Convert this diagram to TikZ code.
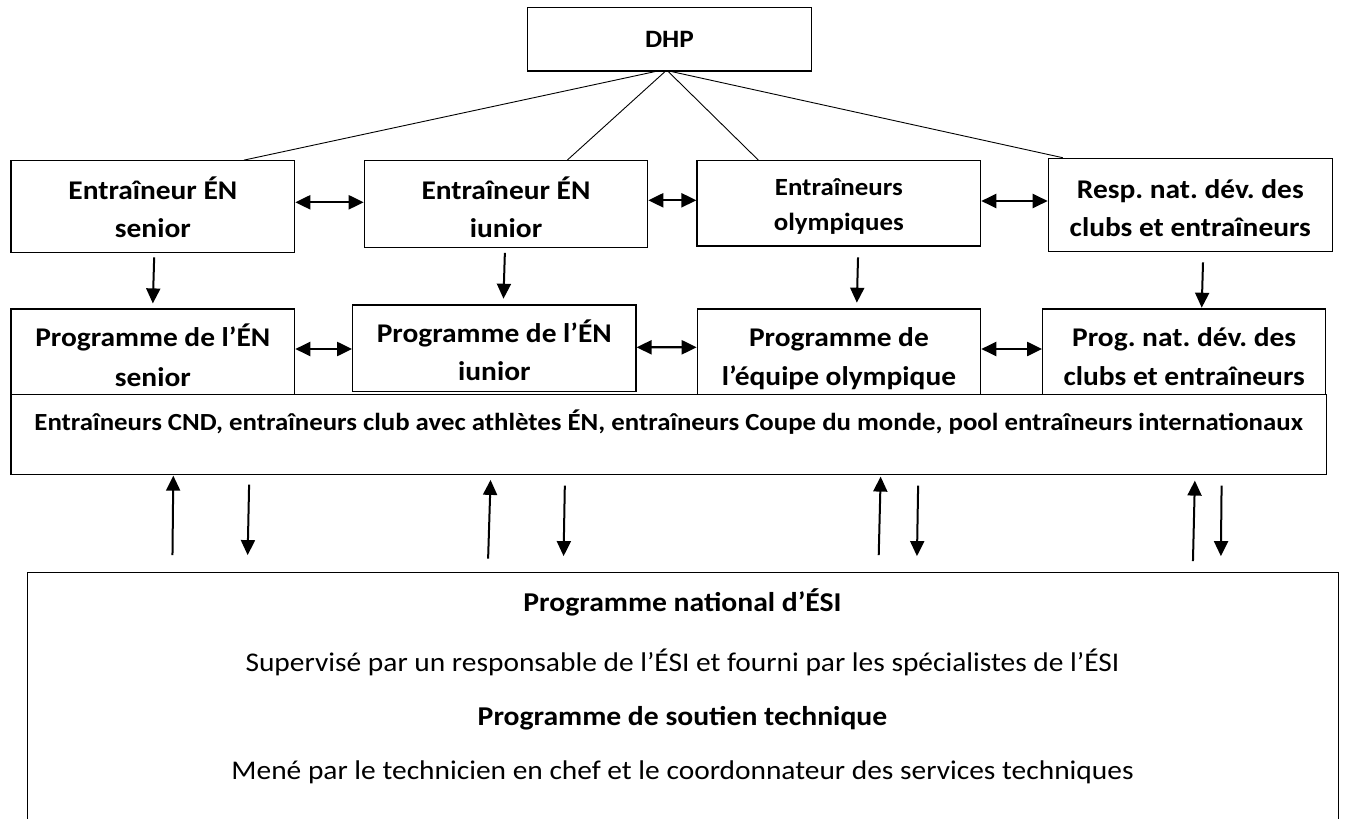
\documentclass[tikz,border=0pt]{standalone}
\usepackage{fontspec}
\setmainfont{Carlito}[FakeStretch=1.09]
\usetikzlibrary{arrows.meta}
\frenchspacing

\begin{document}
\begin{tikzpicture}[x=1pt,y=-1pt,
  box/.style={draw, line width=1.2pt, inner sep=0pt, rectangle},
  lbl/.style={anchor=base, inner sep=0pt, font=\fontsize{27}{32}\selectfont\bfseries},
  lblsm/.style={anchor=base, inner sep=0pt, font=\fontsize{24.7}{29}\selectfont\bfseries},
  lblrow/.style={anchor=base, inner sep=0pt, font=\fontsize{24.6}{29}\selectfont\bfseries},
  lbltop/.style={anchor=base, inner sep=0pt, font=\fontsize{25}{30}\selectfont\bfseries},
  txtb/.style={anchor=base, inner sep=0pt, font=\fontsize{27.2}{32}\selectfont\bfseries},
  txt/.style={anchor=base, inner sep=0pt, font=\fontsize{27}{32}\selectfont},
  link/.style={line width=0.9pt},
  tip/.tip={Triangle[length=15pt,width=14pt]},
  arr/.style={line width=2pt, -tip},
  darr/.style={line width=2.2pt, tip-tip}
]
\useasboundingbox (0,0) rectangle (1347,819);
\clip (0,0) rectangle (1347,819);

% top box
\node[box, minimum width=283.6pt, minimum height=63.3pt] (dhp) at (669.5,39.35) {};
\node[lbltop] (tdhp) at (669.5,47.5) {DHP};

% coaches row
\node[box, minimum width=283.7pt, minimum height=91.6pt] (a) at (152.85,206.5) {};
\node[box, minimum width=283.4pt, minimum height=87pt]   (b) at (506,204.2) {};
\node[box, minimum width=283.7pt, minimum height=85.3pt] (c) at (838.85,203.35) {};
\node[box, minimum width=284pt,   minimum height=93pt]   (d) at (1190.3,204.8) {};

\node[lbl] (ta1) at (152.85,199) {Entraîneur ÉN};
\node[lbl] (ta2) at (152.85,237.3) {senior};
\node[lbl] (tb1) at (506,199) {Entraîneur ÉN};
\node[lbl] (tb2) at (506,237.3) {iunior};
\node[lblsm] (tc1) at (838.85,195) {Entraîneurs};
\node[lblsm] (tc2) at (838.85,230.7) {olympiques};
\node[lbl] (td1) at (1190.3,198.3) {Resp. nat. dév. des};
\node[lbl] (td2) at (1190.3,236) {clubs et entraîneurs};

% programmes row
\node[box, minimum width=283.7pt, minimum height=85.3pt] (p1) at (152.85,351.65) {};
\node[box, minimum width=283.3pt, minimum height=86.7pt] (p2) at (494.35,348.35) {};
\node[box, minimum width=283.4pt, minimum height=85.3pt] (p3) at (839,351.65) {};
\node[box, minimum width=283pt,   minimum height=85.3pt] (p4) at (1184.2,351.65) {};

\node[lbl] (tp11) at (152.85,346.7) {Programme de l’ÉN};
\node[lbl] (tp12) at (152.85,386) {senior};
\node[lbl] (tp21) at (494.35,342.7) {Programme de l’ÉN};
\node[lbl] (tp22) at (494.35,380) {iunior};
\node[lbl] (tp31) at (839,346.7) {Programme de};
\node[lbl] (tp32) at (839,385) {l’équipe olympique};
\node[lbl] (tp41) at (1184.2,346.7) {Prog. nat. dév. des};
\node[lbl] (tp42) at (1184.2,385) {clubs et entraîneurs};

% wide coaches box
\node[box, fill=white, minimum width=1315.3pt, minimum height=80pt] (l) at (668.65,434.3) {};
\node[lblrow] (tl) at (668.65,430.7) {Entraîneurs CND, entraîneurs club avec athlètes ÉN, entraîneurs Coupe du monde, pool entraîneurs internationaux};

% support programmes box (runs past the lower edge)
\node[box, minimum width=1310.6pt, minimum height=257.3pt] (bot) at (683,701.35) {};
\node[txtb] (tq1) at (682.5,611) {Programme national d’ÉSI};
\node[txt]  (tq2) at (682.5,671.7) {Supervisé par un responsable de l’ÉSI et fourni par les spécialistes de l’ÉSI};
\node[txtb] (tq3) at (682.5,725) {Programme de soutien technique};
\node[txt]  (tq4) at (682.5,779) {Mené par le technicien en chef et le coordonnateur des services techniques};

% links from DHP
\draw[link] ([xshift=-14.5pt]dhp.south) -- ([xshift=91.2pt]a.north);
\draw[link] ([xshift=-4.5pt]dhp.south) -- ([xshift=61.3pt]b.north);
\draw[link] ([xshift=-1.2pt]dhp.south) -- ([xshift=-80.5pt]c.north);
\draw[link] ([xshift=2.2pt]dhp.south) -- ([xshift=-127.6pt]d.north);

% two-way arrows between neighbours
\draw[darr] ([yshift=4.2pt]a.east) -- ([yshift=1.9pt]b.west);
\draw[darr] ([yshift=3.9pt]b.east) -- ([yshift=3.05pt]c.west);
\draw[darr] ([yshift=2.35pt]c.east) -- ([yshift=3.8pt]d.west);
\draw[darr] ([yshift=2.65pt]p1.east) -- ([yshift=-0.65pt]p2.west);
\draw[darr] ([yshift=1.05pt]p2.east) -- ([yshift=4.35pt]p3.west);
\draw[darr] ([yshift=2.65pt]p3.east) -- ([yshift=2.65pt]p4.west);

% coaches to programmes
\draw[arr, shorten <=4.4pt, shorten >=5pt] (154.3,0 |- a.south) -- (152.7,0 |- p1.north);
\draw[arr, shorten <=4.6pt, shorten >=5.7pt] (505,0 |- b.south) -- (503.3,0 |- p2.north);
\draw[arr, shorten <=10.7pt, shorten >=5.7pt] (858.3,0 |- c.south) -- (856.7,0 |- p3.north);
\draw[arr, shorten <=10.4pt, shorten >=0.7pt] (1203.3,0 |- d.south) -- (1201.7,0 |- p4.north);

% exchanges with the support programmes
\draw[arr, shorten <=17pt, shorten >=0.7pt] (172.3,0 |- bot.north) -- (173.3,0 |- l.south);
\draw[arr, shorten <=9.7pt, shorten >=17pt] (249.3,0 |- l.south) -- (247.3,0 |- bot.north);
\draw[arr, shorten <=13.4pt, shorten >=5pt] (487.7,0 |- bot.north) -- (490.7,0 |- l.south);
\draw[arr, shorten <=10.7pt, shorten >=16pt] (565,0 |- l.south) -- (563.3,0 |- bot.north);
\draw[arr, shorten <=17pt, shorten >=1.7pt] (878.3,0 |- bot.north) -- (880.7,0 |- l.south);
\draw[arr, shorten <=10.7pt, shorten >=16pt] (918.3,0 |- l.south) -- (916.7,0 |- bot.north);
\draw[arr, shorten <=11pt, shorten >=5.7pt] (1192.7,0 |- bot.north) -- (1195,0 |- l.south);
\draw[arr, shorten <=10.7pt, shorten >=16pt] (1221.7,0 |- l.south) -- (1220.7,0 |- bot.north);
\end{tikzpicture}
\end{document}
